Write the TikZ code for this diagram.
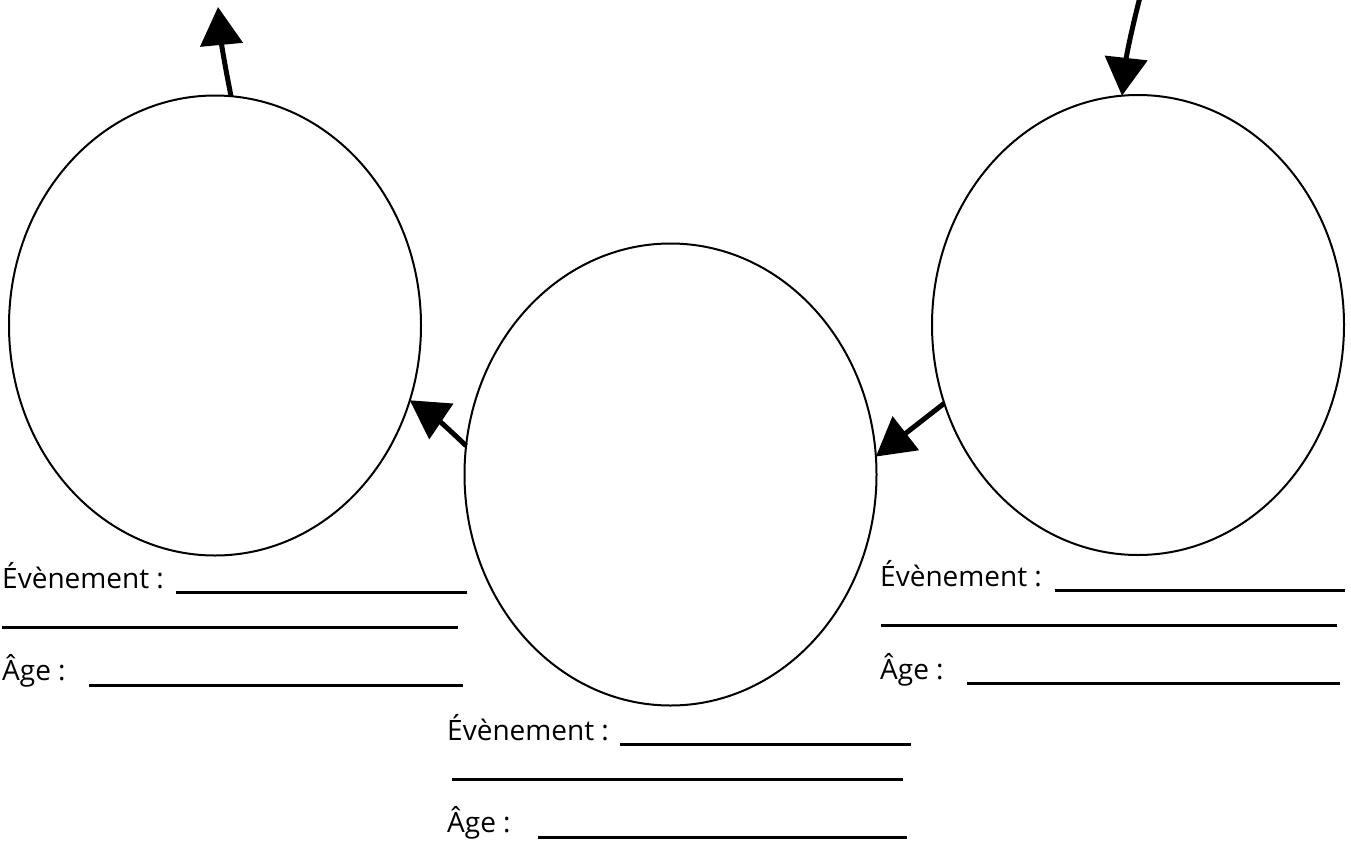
\documentclass[tikz,border=0pt]{standalone}
\usepackage{fontspec}
\setmainfont{Open Sans}
\usetikzlibrary{arrows.meta,shapes.geometric}
\begin{document}
\begin{tikzpicture}[x=1pt,y=-1pt,
  bubble/.style={draw,ellipse,line width=2pt,minimum width=412pt,inner sep=0pt,outer sep=0pt},
  arr/.style={line width=5pt,-{Triangle[length=38pt,width=42pt]}},
  lbl/.style={anchor=base west,inner sep=0pt,font=\fontsize{28}{33}\selectfont},
  blank/.style={line width=3pt}]
\useasboundingbox (0,0) rectangle (1351,841);
\node[bubble,minimum height=460pt] (L) at (215,325.5) {};
\node[bubble,minimum height=462pt] (M) at (670.5,474.5) {};
\node[bubble,minimum height=460pt] (R) at (1138,325) {};
\coordinate (tl) at (218,7);
\coordinate (tr) at (1140,-3);
\draw[arr] (L.86) to[bend left=3] (tl);
\draw[arr] (tr) to[bend right=4] (R.94);
\draw[arr] (M.172) to[bend right=5] (L.339);
\draw[arr] (R.202) -- (M.5);
% left block
\node[lbl] (ev1) at (2,588) {Évènement :};
\node[lbl] (age1) at (2,680) {Âge :};
\draw[blank] (176,592) -- (467,592);
\draw[blank] (2,627) -- (458,627);
\draw[blank] (89,685) -- (463,685);
% middle block
\node[lbl] (ev2) at (447,740) {Évènement :};
\node[lbl] (age2) at (447,832) {Âge :};
\draw[blank] (620,744) -- (911,744);
\draw[blank] (452,779) -- (903,779);
\draw[blank] (538,837) -- (907,837);
% right block
\node[lbl] (ev3) at (880,586) {Évènement :};
\node[lbl] (age3) at (880,679) {Âge :};
\draw[blank] (1055,590) -- (1345,590);
\draw[blank] (881,625) -- (1337,625);
\draw[blank] (967,683) -- (1340,683);
\end{tikzpicture}
\end{document}
